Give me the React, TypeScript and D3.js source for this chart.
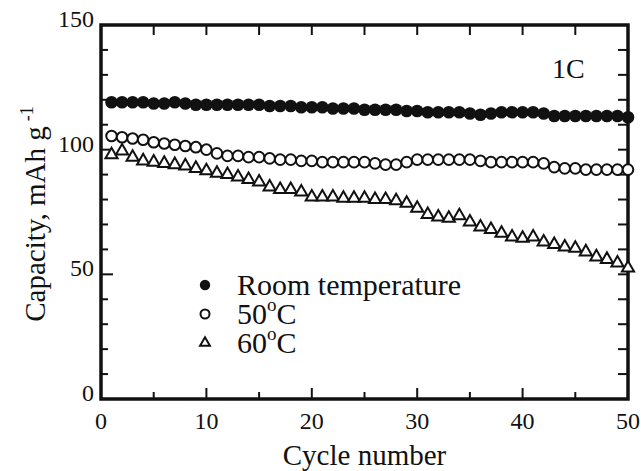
import React from "react";
import * as d3 from "d3";

// cycles 1..50
const cycles = d3.range(1, 51);

const roomTemp = [
  119, 119, 119, 119, 118.5, 118.5, 119, 118.5, 118, 118,
  118, 118, 118, 118, 118, 117.5, 117.5, 117.5, 117, 117,
  117, 116.5, 116.5, 116.5, 116, 116, 116, 116, 115.5, 115.5,
  115, 115, 115, 115, 114.5, 114, 114.5, 115, 115, 115,
  115, 114.5, 113.5, 113.5, 113.5, 113.5, 113.5, 113.5, 113.5, 113,
];

const temp50 = [
  105.5, 105, 104.5, 104, 103, 102.5, 102, 101.5, 101, 100,
  98.5, 97.5, 97.5, 97, 97, 96.5, 96, 96, 95.5, 95.5,
  95, 95, 95, 95, 95, 94.5, 94, 94, 95, 96,
  96, 96, 96, 96, 96, 95.5, 95, 95, 95, 95,
  95, 94.5, 93, 92.5, 92.5, 92, 92, 92, 92, 92,
];

const temp60 = [
  98, 99.5, 97, 95.5, 95, 94.5, 94, 93.5, 92.5, 91.5,
  90.5, 90, 89, 88, 87, 85, 84, 84, 83, 81,
  81, 81, 80.5, 80.5, 80.5, 80, 80, 79.5, 78.5, 76.5,
  74, 73, 72.5, 73.5, 71, 69, 68, 66.5, 65, 64.5,
  65, 63, 62, 61, 60.5, 59, 57, 56, 54.5, 52.5,
];

const xTicks = [0, 10, 20, 30, 40, 50];
const yTicks = [0, 50, 100, 150];

const W = 641;
const H = 471;
const m = { left: 101, top: 25, right: 13, bottom: 72 };
const font = "'Liberation Serif', 'Times New Roman', serif";
const ink = "#111";

export default function App() {
  const x = d3.scaleLinear().domain([0, 50]).range([m.left, W - m.right]);
  const y = d3.scaleLinear().domain([0, 150]).range([H - m.bottom, m.top]);
  const x0 = x(0), x1 = x(50), y0 = y(0), y1 = y(150);

  const tri = d3.symbol().type(d3.symbolTriangle).size(64)();
  const triSmall = d3.symbol().type(d3.symbolTriangle).size(42)();

  const xMinor = d3.range(0, 51, 5);
  const yMinor = d3.range(0, 151, 10);

  return (
    <svg
      width={W}
      height={H}
      style={{ position: "absolute", left: 0, top: 0, background: "#fff" }}
      fontFamily={font}
    >
      {/* ticks bottom and top */}
      {xMinor.map((t) => {
        const major = t % 10 === 0;
        const len = major ? 11 : 7;
        return (
          <g key={"xt" + t} stroke={ink} strokeWidth={2}>
            <line x1={x(t)} x2={x(t)} y1={y0} y2={y0 - len} />
            <line x1={x(t)} x2={x(t)} y1={y1} y2={y1 + 10} />
          </g>
        );
      })}
      {/* ticks left and right */}
      {yMinor.map((t) => {
        const major = t % 50 === 0;
        const len = major ? 12 : 7;
        return (
          <g key={"yt" + t} stroke={ink} strokeWidth={2}>
            <line x1={x0} x2={x0 + len} y1={y(t)} y2={y(t)} />
            <line x1={x1} x2={x1 - 10} y1={y(t)} y2={y(t)} />
          </g>
        );
      })}
      <rect
        x={x0}
        y={y1}
        width={x1 - x0}
        height={y0 - y1}
        fill="none"
        stroke={ink}
        strokeWidth={3.5}
      />

      {/* tick labels */}
      {xTicks.map((t) => (
        <text key={"xl" + t} x={x(t)} y={y0 + 30} textAnchor="middle" fontSize={24} fill={ink}>
          {t}
        </text>
      ))}
      {yTicks.map((t) => (
        <text key={"yl" + t} x={x0 - 7} y={y(t) + 2} textAnchor="end" fontSize={24} fill={ink}>
          {t}
        </text>
      ))}

      {/* axis titles */}
      <text x={(x0 + x1) / 2} y={465} textAnchor="middle" fontSize={29} fill={ink}>
        Cycle number
      </text>
      <text
        transform={`translate(45,${(y0 + y1) / 2 + 2}) rotate(-90)`}
        textAnchor="middle"
        fontSize={29}
        fill={ink}
      >
        Capacity, mAh g
        <tspan fontSize={18} dx={5} dy={-12}>
          -1
        </tspan>
      </text>

      <text x={552} y={78} fontSize={28} fill={ink}>
        1C
      </text>

      {/* data */}
      {roomTemp.map((v, i) => (
        <circle key={"r" + i} cx={x(cycles[i])} cy={y(v)} r={6.3} fill={ink} />
      ))}
      {temp50.map((v, i) => (
        <circle
          key={"a" + i}
          cx={x(cycles[i])}
          cy={y(v)}
          r={5.3}
          fill="#fff"
          stroke={ink}
          strokeWidth={2}
        />
      ))}
      {temp60.map((v, i) => (
        <path
          key={"b" + i}
          d={tri}
          transform={`translate(${x(cycles[i])},${y(v)})`}
          fill="#fff"
          stroke={ink}
          strokeWidth={2}
        />
      ))}

      {/* legend */}
      <g fill={ink} fontSize={30}>
        <circle cx={205} cy={285} r={5.2} fill={ink} />
        <text x={237} y={295}>Room temperature</text>
        <circle cx={205} cy={314} r={4.5} fill="#fff" stroke={ink} strokeWidth={2} />
        <text x={237} y={324}>
          50
          <tspan fontSize={19} dy={-13}>o</tspan>
          <tspan dy={13}>C</tspan>
        </text>
        <path d={triSmall} transform="translate(205,343)" fill="#fff" stroke={ink} strokeWidth={2} />
        <text x={237} y={353}>
          60
          <tspan fontSize={19} dy={-13}>o</tspan>
          <tspan dy={13}>C</tspan>
        </text>
      </g>
    </svg>
  );
}
